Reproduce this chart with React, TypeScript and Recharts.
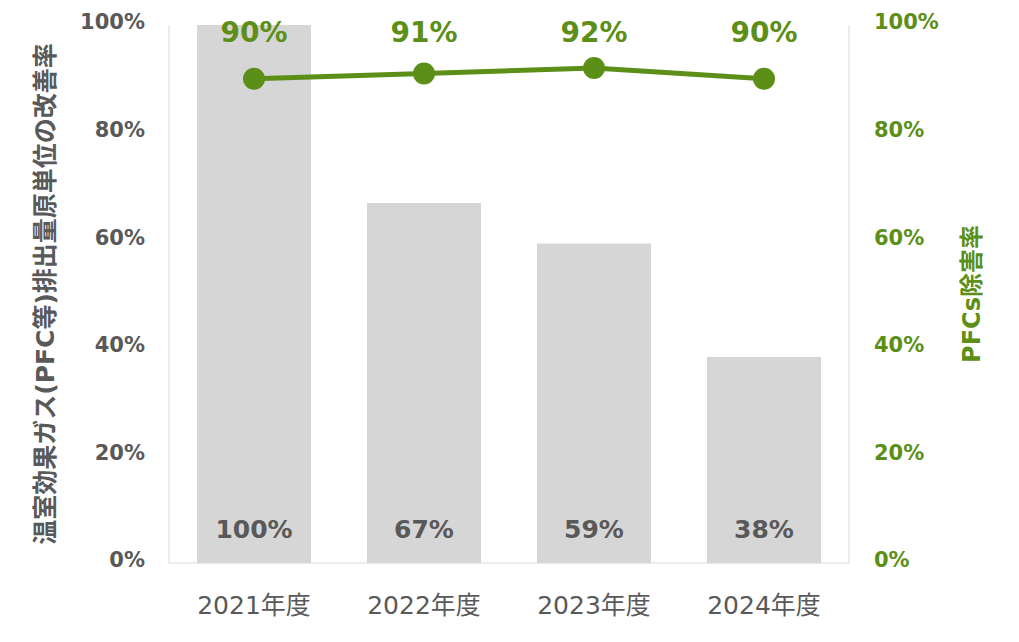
import React from "react";
import {
  ComposedChart,
  Bar,
  Line,
  XAxis,
  YAxis,
  LabelList,
} from "recharts";

const years = ["2021年度", "2022年度", "2023年度", "2024年度"];
const intensityImprovement = [100, 66.9, 59.4, 38.3];
const pfcRemoval = [90, 91, 92, 90];
const percentTicks = [0, 20, 40, 60, 80, 100];

const GREEN = "#5C8F17";
const GREY_TEXT = "#595959";
const FONT = "'DejaVu Sans', 'Noto Sans CJK JP', sans-serif";
const TOP = 25;

const data = years.map((year, i) => ({
  year,
  intensity: intensityImprovement[i],
  removal: pfcRemoval[i],
}));

const pct = (v: number) => `${Math.round(v)}%`;

// removal labels sit in one row along the top of the plot
function RemovalLabel(props: any) {
  const { x, value } = props;
  return (
    <text
      x={x}
      y={TOP + 17}
      textAnchor="middle"
      fill={GREEN}
      fontSize={28}
      fontWeight={700}
      fontFamily={FONT}
    >
      {pct(value)}
    </text>
  );
}

export default function App() {
  return (
    <div style={{ position: "absolute", left: 0, top: 0, fontFamily: FONT }}>
      <ComposedChart
        width={1019}
        height={642}
        data={data}
        margin={{ top: TOP, right: 0, bottom: 0, left: 0 }}
      >
        <XAxis
          dataKey="year"
          height={79}
          axisLine={{ stroke: "#D9D9D9" }}
          tickLine={false}
          tickSize={0}
          tickMargin={33}
          tick={{ fill: GREY_TEXT, fontSize: 25, fontFamily: FONT }}
        />
        <YAxis
          yAxisId="left"
          width={169}
          domain={[0, 100]}
          ticks={percentTicks}
          tickFormatter={pct}
          axisLine={{ stroke: "#D9D9D9" }}
          tickLine={false}
          tickSize={0}
          tickMargin={24}
          tick={{ fill: GREY_TEXT, fontSize: 21, fontWeight: 700, fontFamily: FONT, dy: -3 }}
          label={{
            value: "温室効果ガス(PFC等)排出量原単位の改善率",
            angle: -90,
            position: "center",
            dx: -39,
            fill: GREY_TEXT,
            fontSize: 25,
            fontWeight: 700,
            fontFamily: FONT,
          }}
        />
        <YAxis
          yAxisId="right"
          orientation="right"
          width={170}
          domain={[0, 100]}
          ticks={percentTicks}
          tickFormatter={pct}
          axisLine={{ stroke: "#D9D9D9" }}
          tickLine={false}
          tickSize={0}
          tickMargin={25}
          tick={{ fill: GREEN, fontSize: 21, fontWeight: 700, fontFamily: FONT, dy: -3 }}
          label={{
            value: "PFCs除害率",
            angle: -90,
            position: "center",
            dx: 37,
            fill: GREEN,
            fontSize: 24,
            fontWeight: 700,
            fontFamily: FONT,
          }}
        />
        <Bar
          yAxisId="left"
          dataKey="intensity"
          fill="#D6D6D6"
          barSize={114}
          isAnimationActive={false}
        >
          <LabelList
            dataKey="intensity"
            position="insideBottom"
            offset={25}
            formatter={pct}
            fill={GREY_TEXT}
            fontSize={25}
            fontWeight={700}
            fontFamily={FONT}
          />
        </Bar>
        <Line
          yAxisId="right"
          dataKey="removal"
          stroke={GREEN}
          strokeWidth={5}
          dot={{ r: 11, fill: GREEN, stroke: GREEN, strokeWidth: 0 }}
          activeDot={false}
          isAnimationActive={false}
        >
          <LabelList dataKey="removal" content={<RemovalLabel />} />
        </Line>
      </ComposedChart>
    </div>
  );
}
